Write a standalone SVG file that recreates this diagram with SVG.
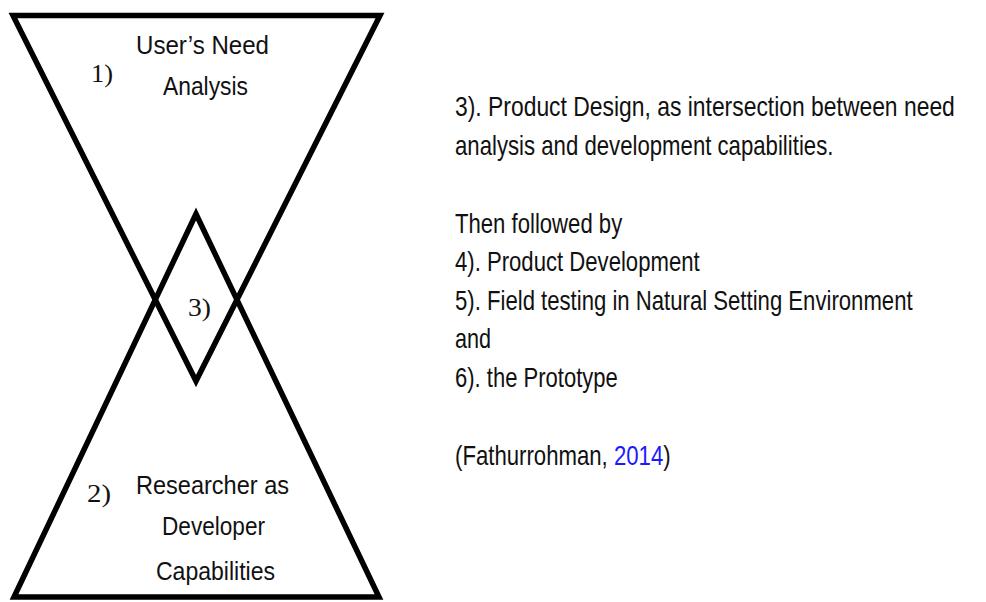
<svg xmlns="http://www.w3.org/2000/svg" width="986" height="602" viewBox="0 0 986 602">
<style>
.shape{fill:none;stroke:#000;stroke-width:5.5;stroke-linejoin:miter;stroke-miterlimit:10}
.t{font-family:"Liberation Sans",Arial,sans-serif;font-size:27px;fill:#111}
.l{font-family:"Liberation Sans",Arial,sans-serif;font-size:26px;fill:#111}
.n{font-family:"Liberation Serif","Times New Roman",serif;font-size:26px;fill:#111}
.link{fill:#1a1aff}
</style>
<rect width="986" height="602" fill="#fff"/>
<g id="node-user-need">
<polygon class="shape" points="13,15.5 380,15.5 196,381"/>
<text class="n" x="91" y="82" textLength="22" lengthAdjust="spacingAndGlyphs">1)</text>
<text class="l" x="136" y="53.5" textLength="133" lengthAdjust="spacingAndGlyphs">User’s Need</text>
<text class="l" x="163" y="95" textLength="85" lengthAdjust="spacingAndGlyphs">Analysis</text>
</g>
<g id="node-researcher">
<polygon class="shape" points="14,597 379,597 196,214"/>
<text class="n" x="87" y="502" textLength="24" lengthAdjust="spacingAndGlyphs">2)</text>
<text class="l" x="136" y="493.5" textLength="153" lengthAdjust="spacingAndGlyphs">Researcher as</text>
<text class="l" x="162" y="534.5" textLength="103" lengthAdjust="spacingAndGlyphs">Developer</text>
<text class="l" x="156" y="579.5" textLength="119" lengthAdjust="spacingAndGlyphs">Capabilities</text>
</g>
<g id="node-product-design">
<text class="n" x="188" y="316" textLength="23" lengthAdjust="spacingAndGlyphs">3)</text>
</g>
<g id="connectors"></g>
<g id="description" transform="translate(455,0) scale(0.88,1)">
<text class="t" x="0" y="116" textLength="568" lengthAdjust="spacingAndGlyphs">3). Product Design, as intersection between need</text>
<text class="t" x="0" y="155" textLength="430" lengthAdjust="spacingAndGlyphs">analysis and development capabilities.</text>
<text class="t" x="0" y="233" textLength="190" lengthAdjust="spacingAndGlyphs">Then followed by</text>
<text class="t" x="0" y="271.5" textLength="278" lengthAdjust="spacingAndGlyphs">4). Product Development</text>
<text class="t" x="0" y="310" textLength="520" lengthAdjust="spacingAndGlyphs">5). Field testing in Natural Setting Environment</text>
<text class="t" x="0" y="348.5" textLength="41" lengthAdjust="spacingAndGlyphs">and</text>
<text class="t" x="0" y="387" textLength="185" lengthAdjust="spacingAndGlyphs">6). the Prototype</text>
<text class="t" x="0" y="465" textLength="245" lengthAdjust="spacingAndGlyphs">(Fathurrohman, <tspan class="link">2014</tspan>)</text>
</g>
</svg>
